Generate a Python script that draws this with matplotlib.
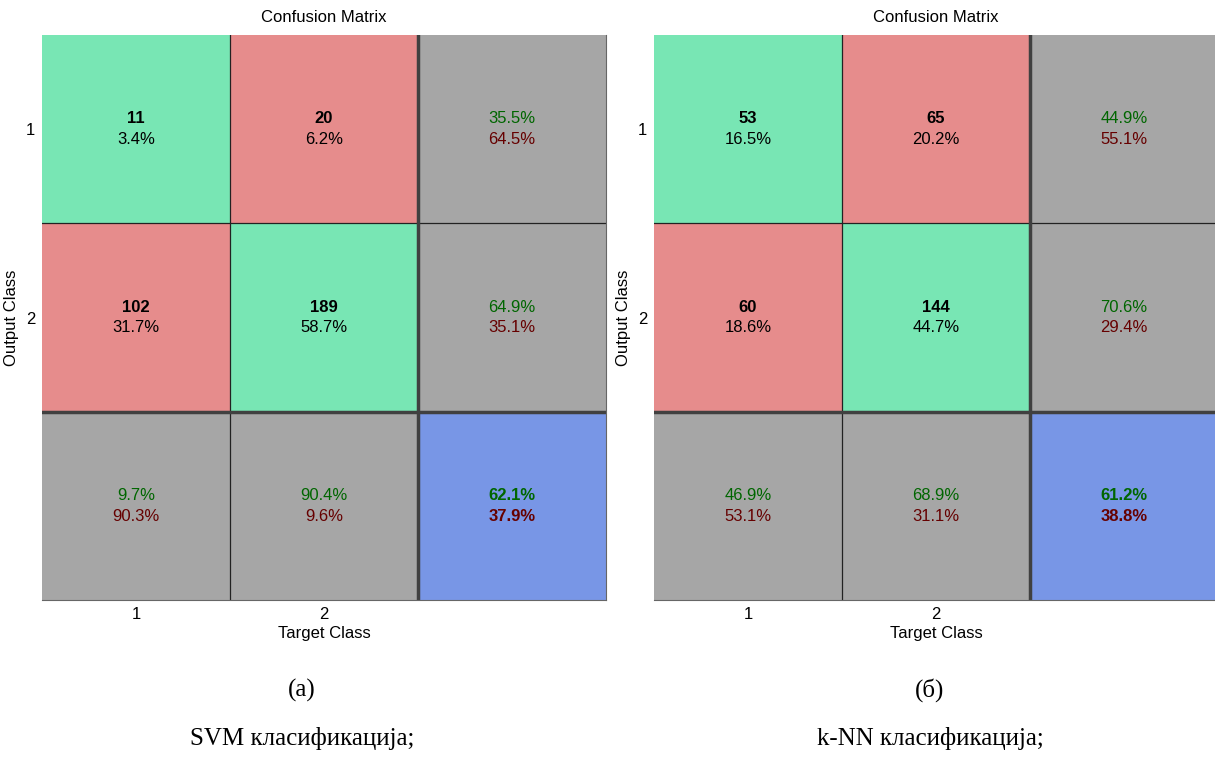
import numpy as np
import matplotlib
matplotlib.use('Agg')
import matplotlib.pyplot as plt

plt.rcParams['font.family'] = ['Liberation Sans', 'DejaVu Sans']

# ==================== data ====================
classes = ['1', '2']
svm_counts = [[11, 20],
              [102, 189]]
knn_counts = [[53, 65],
              [60, 144]]
panel_tags = ['(а)', '(б)']
panel_captions = ['SVM класификација;', 'k-NN класификација;']

# MATLAB plotconfusion colours
c_green = '#78E6B4'
c_red = '#E68C8C'
c_gray = '#A6A6A6'
c_blue = '#7896E6'
t_green = '#006600'
t_red = '#660000'

fs = 12


def draw_confusion(ax, counts):
    cm = np.array(counts, dtype=float)
    n = cm.shape[0]
    total = cm.sum()

    rgb = np.empty((n + 1, n + 1, 3))
    for i in range(n + 1):
        for j in range(n + 1):
            if i == n and j == n:
                col = c_blue
            elif i == n or j == n:
                col = c_gray
            elif i == j:
                col = c_green
            else:
                col = c_red
            rgb[i, j] = matplotlib.colors.to_rgb(col)
    ax.imshow(rgb, extent=[0.5, n + 1.5, n + 1.5, 0.5], aspect='auto',
              interpolation='nearest')

    dy = 0.055
    for i in range(n):
        for j in range(n):
            ax.text(j + 1, i + 1 - dy, f'{int(cm[i, j])}', ha='center',
                    va='center', fontsize=fs, fontweight='bold')
            ax.text(j + 1, i + 1 + dy, f'{100 * cm[i, j] / total:.1f}%',
                    ha='center', va='center', fontsize=fs)

    # row summaries (precision) and column summaries (recall)
    for i in range(n):
        p = cm[i, i] / cm[i].sum()
        ax.text(n + 1, i + 1 - dy, f'{100 * p:.1f}%', ha='center',
                va='center', fontsize=fs, color=t_green)
        ax.text(n + 1, i + 1 + dy, f'{100 * (1 - p):.1f}%', ha='center',
                va='center', fontsize=fs, color=t_red)
    for j in range(n):
        r = cm[j, j] / cm[:, j].sum()
        ax.text(j + 1, n + 1 - dy, f'{100 * r:.1f}%', ha='center',
                va='center', fontsize=fs, color=t_green)
        ax.text(j + 1, n + 1 + dy, f'{100 * (1 - r):.1f}%', ha='center',
                va='center', fontsize=fs, color=t_red)
    acc = np.trace(cm) / total
    ax.text(n + 1, n + 1 - dy, f'{100 * acc:.1f}%', ha='center',
            va='center', fontsize=fs, color=t_green, fontweight='bold')
    ax.text(n + 1, n + 1 + dy, f'{100 * (1 - acc):.1f}%', ha='center',
            va='center', fontsize=fs, color=t_red, fontweight='bold')

    # grid lines
    for k in range(1, n):
        ax.axvline(k + 0.5, color='#222222', lw=0.9)
        ax.axhline(k + 0.5, color='#222222', lw=0.9)
    ax.axvline(n + 0.5, color='#404040', lw=2.5)
    ax.axhline(n + 0.5, color='#404040', lw=2.5)

    ax.set_xlim(0.5, n + 1.5)
    ax.set_ylim(n + 1.5, 0.5)
    ax.set_xticks(np.arange(1, n + 1))
    ax.set_xticklabels(classes, fontsize=fs)
    ax.set_yticks(np.arange(1, n + 1))
    ax.set_yticklabels(classes, fontsize=fs)
    ax.tick_params(length=0, pad=5)
    ax.set_xlabel('Target Class', fontsize=fs, labelpad=3)
    ax.set_ylabel('Output Class', fontsize=fs, labelpad=5)
    ax.set_title('Confusion Matrix', fontsize=fs, pad=9)
    for side in ['top', 'left']:
        ax.spines[side].set_visible(False)
    for side in ['right', 'bottom']:
        ax.spines[side].set_color('#666666')
        ax.spines[side].set_linewidth(0.8)


fig = plt.figure(figsize=(12.15, 7.65), dpi=100)
ax1 = fig.add_axes([42 / 1215, 165 / 765, 564 / 1215, 565 / 765])
ax2 = fig.add_axes([654 / 1215, 165 / 765, 564 / 1215, 565 / 765])

draw_confusion(ax1, svm_counts)
draw_confusion(ax2, knn_counts)

caption_x = [302 / 1215, 930 / 1215]
for cx, tag, cap in zip(caption_x, panel_tags, panel_captions):
    fig.text(cx, 1 - 690 / 765, tag, ha='center', va='center',
             fontsize=18, family='Liberation Serif')
    fig.text(cx, 1 - 739 / 765, cap, ha='center', va='center',
             fontsize=18, family='Liberation Serif')

fig.savefig('out.png', dpi=100)
